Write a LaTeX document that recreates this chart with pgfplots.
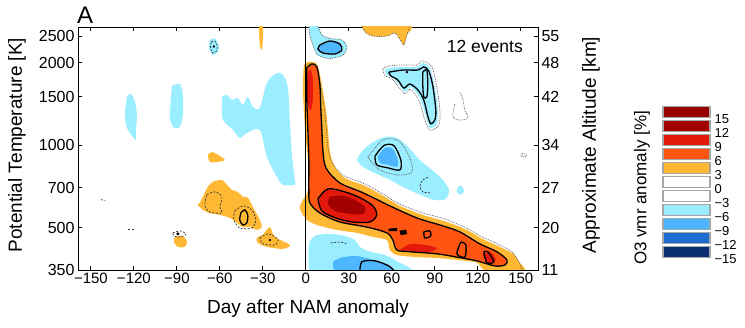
\documentclass[border=0pt]{standalone}
\usepackage{pgfplots}
\pgfplotsset{compat=1.18}
\usepackage{fontspec}
\setmainfont{Liberation Sans}
\definecolor{c3}{HTML}{FFB833}
\definecolor{c6}{HTML}{FF5511}
\definecolor{c9}{HTML}{E31A0B}
\definecolor{c12}{HTML}{A30000}
\definecolor{c15}{HTML}{9A0000}
\definecolor{m3}{HTML}{9BEEFF}
\definecolor{m6}{HTML}{4DB6FF}
\definecolor{m9}{HTML}{1F6CCF}
\definecolor{m12}{HTML}{0C2E72}
\pgfplotsset{
  rgn/.style={draw=none, smooth, tension=0.5},
  cline/.style={black, line width=1.3pt, smooth, tension=0.5},
  dotl/.style={black!70, densely dotted, line width=0.7pt, smooth, tension=0.5},
  dashl/.style={black!80, dash pattern=on 2pt off 1.5pt, line width=0.7pt, smooth, tension=0.5},
}
\begin{document}
\begin{tikzpicture}
\path[use as bounding box] (-78pt,-58pt) rectangle (667pt,270pt);
\begin{axis}[
  at={(0pt,0pt)}, anchor=south west, scale only axis,
  width=460pt, height=243pt,
  xmin=-159, xmax=162, ymode=log, ymin=350, ymax=2698,
  xtick={-150,-120,-90,-60,-30,0,30,60,90,120,150},
  xticklabels={−150,−120,−90,−60,−30,0,30,60,90,120,150},
  ytick={350,500,700,1000,1500,2000,2500},
  yticklabels={350,500,700,1000,1500,2000,2500},
  yminorticks=false,
  tick align=inside, major tick length=4pt,
  tick style={black, line width=0.8pt},
  axis line style={line width=0.9pt},
  xticklabel style={font=\fontsize{15}{17}\selectfont},
  yticklabel style={font=\fontsize{16}{18}\selectfont},
  xlabel={Day after NAM anomaly}, ylabel={Potential Temperature [K]},
  label style={font=\fontsize{19}{22}\selectfont},
  xlabel style={at={(axis description cs:0.5,-0.16)}, anchor=center},
  ylabel style={at={(axis description cs:-0.1326,0.514)}, anchor=center},
]
% ---------- left panel: negative (light blue)
\addplot[rgn, fill=m3] coordinates {(-124.9,1499) (-122.1,1537) (-119.3,1449) (-117.9,1289) (-118.6,1135) (-118.6,1044) (-120.7,1071) (-124.9,1155) (-126.3,1289) (-124.9,1499)};
\addplot[rgn, fill=m3] coordinates {(-93.5,1643) (-87.9,1671) (-85.8,1524) (-85.8,1289) (-87.9,1165) (-92.1,1155) (-94.9,1256) (-94.2,1461) (-93.5,1643)};
\addplot[rgn, fill=m3] coordinates {(-58.6,1499) (-55.1,1524) (-51.6,1461) (-47.5,1486) (-44.0,1402) (-40.5,1499) (-37.0,1378) (-32.1,1367) (-27.2,1685) (-20.2,1832) (-16.1,1803) (-12.6,1629) (-11.2,1235) (-9.8,935) (-7.7,746) (-7.7,716) (-16.1,716) (-20.2,765) (-27.2,905) (-32.1,1135) (-41.2,1107) (-46.1,1062) (-50.9,1135) (-57.9,1235) (-58.6,1378) (-58.6,1499)};
\addplot[rgn, fill=m3] coordinates {(-67.0,2418) (-63.5,2450) (-60.7,2320) (-61.4,2186) (-64.9,2132) (-67.7,2264) (-67.0,2418)};
\addplot[dashl] coordinates {(-66.0,2380) (-63.5,2400) (-61.8,2300) (-62.5,2200) (-64.9,2170) (-66.6,2270) (-66.0,2380)};
\addplot[only marks, mark=*, mark size=1pt, black] coordinates {(-64.2,2290)};
% left panel: positive (orange)
\addplot[rgn, fill=c3] coordinates {(-32.8,2720) (-30.0,2720) (-30.0,2418) (-30.7,2223) (-32.1,2320) (-32.8,2720)};
\addplot[rgn, fill=c3] coordinates {(-68.4,920) (-65.6,943) (-60.0,912) (-56.5,882) (-61.4,868) (-67.0,868) (-68.4,920)};
\addplot[rgn, fill=c3] coordinates {(-74.0,615) (-70.5,670) (-68.4,704) (-64.9,734) (-58.6,746) (-55.1,716) (-51.6,686) (-47.5,675) (-44.0,648) (-40.5,643) (-37.0,595) (-32.1,533) (-30.7,502) (-34.2,490) (-39.1,502) (-44.0,502) (-48.1,520) (-53.0,542) (-60.0,556) (-67.0,565) (-71.9,580) (-75.4,605) (-74.0,615)};
\addplot[rgn, fill=c3] coordinates {(-30.0,470) (-25.1,502) (-21.6,462) (-11.2,432) (-16.1,418) (-27.2,425) (-33.5,439) (-34.2,458) (-30.0,470)};
\addplot[rgn, fill=c3] coordinates {(-91.4,462) (-86.5,466) (-83.0,446) (-84.4,425) (-89.3,425) (-92.1,443) (-91.4,462)};
\addplot[dashl] coordinates {(-69.1,659) (-63.5,675) (-58.6,648) (-60.0,595) (-58.6,565) (-67.0,570) (-70.5,605) (-69.1,659)};
\addplot[dashl] coordinates {(-49.5,575) (-44.0,600) (-37.7,580) (-34.9,533) (-37.7,498) (-46.1,498) (-50.2,533) (-49.5,575)};
\addplot[cline] coordinates {(-45.4,565) (-42.6,580) (-40.5,556) (-41.2,520) (-44.0,511) (-46.1,533) (-45.4,565)};
\addplot[dashl] coordinates {(-32.1,458) (-26.5,474) (-19.5,454) (-21.6,432) (-30.0,436) (-32.1,458)};
\addplot[only marks, mark=*, mark size=1pt, black] coordinates {(-25.1,450)};
\addplot[dashl] coordinates {(-92.8,478) (-87.9,486) (-83.7,474) (-87.2,462) (-92.1,466) (-92.8,478)};
\addplot[only marks, mark=*, mark size=1.3pt, black] coordinates {(-89.3,474)};
\addplot[dashl] coordinates {(-143,632) (-140,628)};
\addplot[dashl] coordinates {(-124,494) (-120,494)};
% ---------- right panel: negative
\addplot[rgn, fill=m3] coordinates {(2.1,2720) (8.4,2720) (11.2,2523) (16.7,2450) (25.1,2418) (28.6,2282) (25.8,2132) (16.7,2070) (8.4,2132) (4.9,2320) (2.8,2523) (2.1,2720)};
\addplot[rgn, fill=m6] coordinates {(9.8,2320) (16.7,2398) (23.7,2340) (25.1,2223) (20.2,2150) (11.9,2168) (8.4,2243) (9.8,2320)};
\addplot[cline] coordinates {(9.8,2320) (16.7,2398) (23.7,2340) (25.1,2223) (20.2,2150) (11.9,2168) (8.4,2243) (9.8,2320)};
\addplot[dotl] coordinates {(8.4,2720) (11.2,2523) (16.7,2450) (25.1,2418) (28.6,2282) (25.8,2132) (16.7,2070) (8.4,2132) (4.9,2320) (2.8,2523) (2.1,2720)};
% blob c
\addplot[rgn, fill=m3] coordinates {(55.1,1879) (58.6,1913) (67.7,1929) (77.5,1929) (81.6,1994) (86.5,1913) (90.0,1629) (92.1,1343) (91.4,1196) (86.5,1155) (84.4,1235) (80.9,1426) (77.5,1550) (72.6,1629) (69.1,1563) (64.2,1685) (60.0,1775) (56.5,1803) (55.1,1879)};
\addplot[dotl] coordinates {(53.7,1900) (58.6,1945) (67.7,1961) (77.5,1961) (81.6,2030) (88.0,1930) (91.4,1629) (93.5,1343) (92.8,1180) (86.5,1135) (83.0,1235) (79.6,1426) (76.1,1530) (72.6,1600) (69.1,1540) (63.5,1660) (59.3,1760) (55.1,1790) (53.7,1900)};
\addplot[cline] coordinates {(57.9,1846) (67.7,1879) (78.2,1879) (82.3,1929) (85.8,1862) (88.6,1643) (90.7,1343) (90.0,1235) (87.2,1196) (85.1,1275) (82.3,1461) (78.2,1589) (72.6,1671) (68.4,1615) (64.2,1728) (59.3,1789) (57.9,1846)};
\addplot[cline] coordinates {(81.6,1846) (84.4,1879) (85.1,1657) (84.4,1499) (82.3,1499) (81.6,1657) (81.6,1846)};
\addplot[only marks, mark=*, mark size=1pt, black] coordinates {(70.5,1846)};
% blob d
\addplot[rgn, fill=m3] coordinates {(35.6,882) (39.1,947) (46.1,1019) (55.1,1071) (63.5,1062) (71.2,986) (79.6,882) (88.0,811) (95.7,746) (99.8,686) (97.7,636) (90.0,630) (79.6,659) (69.1,698) (58.6,746) (48.2,791) (39.8,833) (35.6,882)};
\addplot[rgn, fill=m3] coordinates {(106.1,704) (108.9,710) (110.3,675) (107.5,659) (105.4,675) (106.1,704)};
\addplot[rgn, fill=m6] coordinates {(50.2,910) (55.1,977) (60.7,968) (64.2,882) (63.5,833) (57.2,847) (51.6,861) (50.2,910)};
\addplot[cline] coordinates {(48.2,910) (54.4,996) (61.4,996) (66.3,882) (65.6,811) (57.2,826) (49.5,847) (48.2,910)};
\addplot[dotl] coordinates {(43.3,903) (53.7,1044) (64.9,1035) (72.6,896) (74.0,798) (64.2,778) (51.6,811) (43.3,903)};
\addplot[dashl] coordinates {(85.1,762) (81.6,746) (79.6,710) (81.6,675) (86.5,670)};
\addplot[dotl] coordinates {(107.5,1563) (109.6,1461) (111.0,1343) (113.1,1256) (107.5,1235) (102.6,1267) (104.0,1414)};
\addplot[dotl] coordinates {(151,930) (154,925) (153,905) (150,912) (151,930)};
% bottom blue
\addplot[rgn, fill=m3] coordinates {(2.1,345) (2.1,432) (6.3,466) (16.7,474) (27.2,466) (34.2,450) (37.7,425) (44.7,408) (55.1,397) (64.2,375) (71.2,345) (2.1,345)};
\addplot[rgn, fill=m6] coordinates {(20.2,345) (18.8,372) (23.7,387) (34.2,394) (44.7,384) (55.1,368) (60.7,345) (20.2,345)};
\addplot[cline] coordinates {(37.7,345) (39.1,375) (48.2,378) (57.9,362) (62.0,345)};
\addplot[dashl] coordinates {(17.4,439) (23.7,443) (28.6,436)};
% ---------- right panel: positive
\addplot[rgn, fill=c3] coordinates {(39.1,2720) (72.6,2720) (70.5,2523) (68.4,2320) (65.6,2438) (62.1,2568) (57.2,2503) (51.6,2490) (46.1,2503) (41.2,2590) (39.1,2720)};
\addplot[dotl] coordinates {(39.1,2720) (41.2,2590) (46.1,2503) (51.6,2490) (57.2,2503) (62.1,2568) (65.6,2438) (68.4,2320) (70.5,2523) (72.6,2720)};
\addplot[rgn, fill=c3] coordinates {(-1.4,1961) (1.4,2010) (5.6,2010) (8.4,1945) (11.2,1657) (14.0,1343) (15.4,1135) (16.7,959) (19.5,847) (27.2,759) (41.2,710) (53.7,654) (65.6,600) (81.6,556) (98.4,524) (112.4,490) (123.5,454) (135.4,425) (144.5,401) (149.3,372) (152.1,347) (126.3,347) (119.3,372) (105.4,381) (91.4,387) (77.5,390) (63.5,397) (58.6,414) (56.5,450) (46.8,462) (35.6,478) (21.6,490) (7.7,511) (0.7,533) (-2.8,565) (-4.2,595) (-2.1,630) (1.4,686) (1.4,882) (0,1044) (-1.4,1343) (-2.1,1657) (-1.4,1961)};
\addplot[dotl] coordinates {(-0.5,1930) (1.4,1975) (5.6,1975) (7.5,1920) (10.2,1657) (13.0,1343) (14.4,1135) (15.7,959) (18.5,860) (26.2,775) (40.2,725) (52.7,668) (64.6,612) (80.6,568) (97.4,536) (111.4,500) (122.5,464) (134.4,434) (143.5,409) (148.3,378) (151,350)};
\addplot[rgn, fill=c6] coordinates {(0.7,1913) (4.2,1978) (7.7,1929) (9.8,1657) (10.5,1343) (11.2,1135) (11.9,959) (14.0,826) (23.7,728) (39.8,670) (58.6,600) (77.5,542) (95.6,507) (107.5,482) (121.4,436) (133.3,408) (140.3,381) (138.9,365) (131.9,362) (119.3,378) (105.4,390) (91.4,401) (72.6,408) (63.5,414) (60.7,450) (56.5,478) (42.6,502) (23.7,524) (9.8,565) (2.8,615) (2.1,686) (2.1,882) (1.4,1135) (0.7,1461) (0.7,1913)};
\addplot[rgn, fill=c9] coordinates {(1.4,1846) (3.5,1879) (4.9,1728) (4.9,1461) (3.5,1343) (1.4,1402) (0.7,1615) (1.4,1846)};
\addplot[rgn, fill=c9] coordinates {(8.4,637) (15.4,692) (27.2,675) (37.7,643) (46.8,600) (49.5,556) (44.7,524) (32.1,524) (20.9,542) (11.2,575) (8.4,637)};
\addplot[rgn, fill=c12] coordinates {(16.7,648) (25.1,654) (34.2,630) (41.2,595) (39.8,561) (30.7,561) (20.2,575) (15.4,610) (16.7,648)};
\addplot[rgn, fill=c9] coordinates {(65.6,414) (72.6,435) (83.0,432) (91.4,421) (86.5,408) (72.6,408) (65.6,414)};
\addplot[rgn, fill=c9] coordinates {(123.5,397) (128.4,408) (132.6,381) (127.0,368) (123.5,397)};
\addplot[cline] coordinates {(0.7,1913) (4.2,1978) (7.7,1929) (9.8,1657) (10.5,1343) (11.2,1135) (11.9,959) (14.0,826) (23.7,728) (39.8,670) (58.6,600) (77.5,542) (95.6,507) (107.5,482) (121.4,436) (133.3,408) (140.3,381) (138.9,365) (131.9,362) (119.3,378) (105.4,390) (91.4,401) (72.6,408) (63.5,414) (60.7,450) (56.5,478) (42.6,502) (23.7,524) (9.8,565) (2.8,615) (2.1,686) (2.1,882) (1.4,1135) (0.7,1461) (0.7,1913)};
\addplot[cline] coordinates {(8.4,637) (15.4,692) (27.2,675) (37.7,643) (46.8,600) (49.5,556) (44.7,524) (32.1,524) (20.9,542) (11.2,575) (8.4,637)};
\addplot[cline] coordinates {(82.3,482) (86.5,486) (87.2,466) (83.0,458) (82.3,482)};
\addplot[cline] coordinates {(108.2,443) (111.7,432) (111.0,390) (105.4,401) (108.2,443)};
\addplot[cline] coordinates {(124.2,408) (127.0,408) (131.2,375) (126.3,372) (124.2,408)};
\addplot[fill=black, draw=black] coordinates {(57.9,494) (63.5,498) (63.5,486) (57.9,486)} -- cycle;
\addplot[fill=black, draw=black] coordinates {(65.6,486) (69.8,490) (70.5,474) (66.3,470)} -- cycle;
% day 0 line
\addplot[black, line width=1pt] coordinates {(0,345) (0,2720)};
\end{axis}
% right axis
\begin{axis}[
  at={(0pt,0pt)}, anchor=south west, scale only axis,
  width=460pt, height=243pt,
  xmin=-159, xmax=162, ymode=log, ymin=350, ymax=2698,
  axis x line=none, axis y line*=right,
  ytick={350,500,700,1000,1500,2000,2500},
  yticklabels={11,20,27,34,42,48,55},
  yminorticks=false,
  tick align=inside, major tick length=4pt,
  tick style={black, line width=0.8pt},
  axis line style={line width=0.9pt},
  tick label style={font=\fontsize{16}{18}\selectfont},
  ylabel={Approximate Altitude [km]},
  label style={font=\fontsize{19}{22}\selectfont},
  ylabel style={at={(axis description cs:1.115,0.514)}, anchor=center},
]
\end{axis}
% colorbar
\begin{axis}[
  at={(585pt,11pt)}, anchor=south west, scale only axis,
  width=47pt, height=154pt,
  xmin=0, xmax=1, ymin=-15, ymax=18,
  axis line style={draw=none}, xtick=\empty,
  ytick={-15,-12,-9,-6,-3,0,3,6,9,12,15},
  yticklabels={−15,−12,−9,−6,−3,0,3,6,9,12,15},
  yticklabel pos=right, major tick length=0pt,
  yticklabel style={font=\fontsize{13}{14}\selectfont, anchor=west, xshift=1pt},
  clip=false,
]
\addplot[fill=c15, draw=gray!70, line width=1.1pt] coordinates {(0,15.35) (1,15.35) (1,17.65) (0,17.65)} -- cycle;
\addplot[fill=c12, draw=gray!70, line width=1.1pt] coordinates {(0,12.35) (1,12.35) (1,14.65) (0,14.65)} -- cycle;
\addplot[fill=c9, draw=gray!70, line width=1.1pt] coordinates {(0,9.35) (1,9.35) (1,11.65) (0,11.65)} -- cycle;
\addplot[fill=c6, draw=gray!70, line width=1.1pt] coordinates {(0,6.35) (1,6.35) (1,8.65) (0,8.65)} -- cycle;
\addplot[fill=c3, draw=gray!70, line width=1.1pt] coordinates {(0,3.35) (1,3.35) (1,5.65) (0,5.65)} -- cycle;
\addplot[fill=white, draw=gray!70, line width=1.1pt] coordinates {(0,0.35) (1,0.35) (1,2.65) (0,2.65)} -- cycle;
\addplot[fill=white, draw=gray!70, line width=1.1pt] coordinates {(0,-2.65) (1,-2.65) (1,-0.35) (0,-0.35)} -- cycle;
\addplot[fill=m3, draw=gray!70, line width=1.1pt] coordinates {(0,-5.65) (1,-5.65) (1,-3.35) (0,-3.35)} -- cycle;
\addplot[fill=m6, draw=gray!70, line width=1.1pt] coordinates {(0,-8.65) (1,-8.65) (1,-6.35) (0,-6.35)} -- cycle;
\addplot[fill=m9, draw=gray!70, line width=1.1pt] coordinates {(0,-11.65) (1,-11.65) (1,-9.35) (0,-9.35)} -- cycle;
\addplot[fill=m12, draw=gray!70, line width=1.1pt] coordinates {(0,-14.65) (1,-14.65) (1,-12.35) (0,-12.35)} -- cycle;
\end{axis}
\node[anchor=base west, inner sep=0pt, font=\fontsize{24}{26}\selectfont] at (-1pt,246pt) {A};
\node[anchor=base east, inner sep=0pt, font=\fontsize{17.5}{19}\selectfont] at (445pt,217pt) {12 events};
\node[rotate=90, anchor=center, font=\fontsize{17}{19}\selectfont] at (564pt,82pt) {O3 vmr anomaly [\%]};
\end{tikzpicture}
\end{document}
